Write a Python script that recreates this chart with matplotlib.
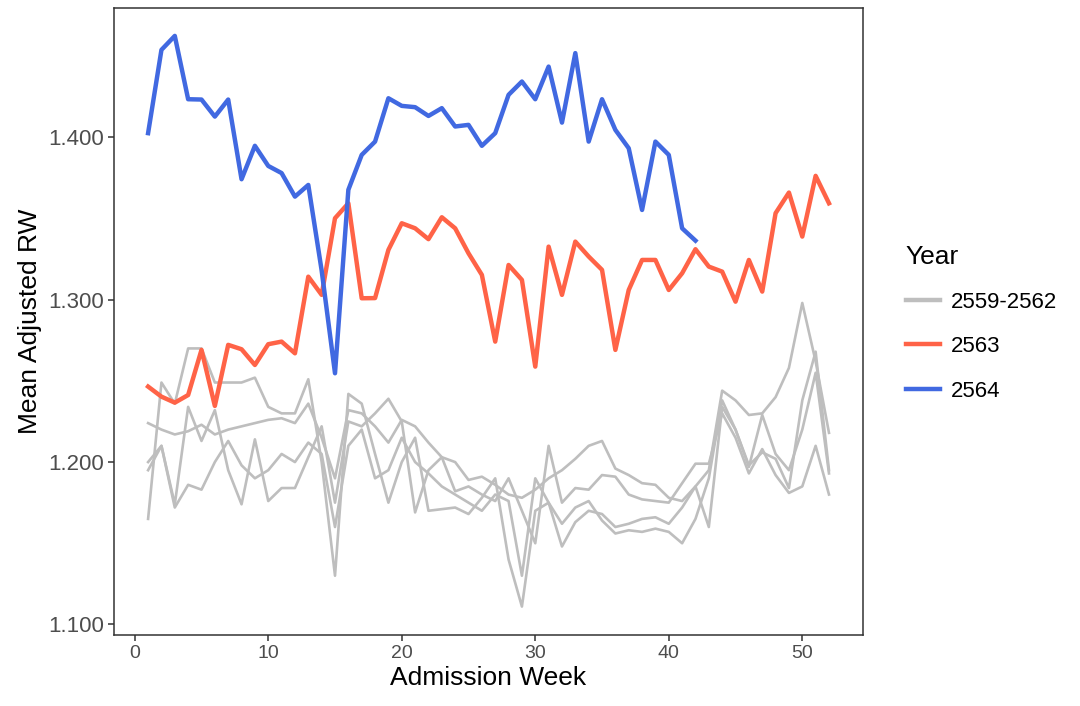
import numpy as np
import matplotlib.pyplot as plt
from matplotlib.lines import Line2D

plt.rcParams['font.family'] = ['Liberation Sans', 'DejaVu Sans']

weeks = np.arange(1, 53)

# mean adjusted RW per admission week, years 2559-2562 (background)
rw_2559 = [1.224, 1.220, 1.217, 1.219, 1.223, 1.217, 1.220, 1.222, 1.224, 1.226, 1.227, 1.224, 1.236,
           1.215, 1.190, 1.232, 1.230, 1.222, 1.212, 1.226, 1.222, 1.212, 1.203, 1.200, 1.189, 1.191, 1.186,
           1.180, 1.178, 1.183, 1.190, 1.195, 1.202, 1.210, 1.213, 1.196, 1.192, 1.187, 1.186, 1.178,
           1.176, 1.185, 1.195, 1.244, 1.238, 1.229, 1.230, 1.240, 1.258, 1.298, 1.262, 1.218]
rw_2560 = [1.165, 1.249, 1.236, 1.270, 1.270, 1.249, 1.249, 1.249, 1.252, 1.234, 1.230, 1.230, 1.251,
           1.200, 1.130, 1.242, 1.236, 1.205, 1.175, 1.200, 1.215, 1.170, 1.171, 1.172, 1.168, 1.178, 1.190,
           1.140, 1.111, 1.170, 1.175, 1.148, 1.163, 1.170, 1.168, 1.160, 1.162, 1.165, 1.166, 1.162,
           1.172, 1.185, 1.160, 1.234, 1.220, 1.198, 1.206, 1.202, 1.184, 1.238, 1.268, 1.195]
rw_2561 = [1.195, 1.210, 1.174, 1.234, 1.213, 1.232, 1.195, 1.174, 1.214, 1.176, 1.184, 1.184, 1.203,
           1.222, 1.175, 1.225, 1.222, 1.230, 1.239, 1.225, 1.169, 1.195, 1.203, 1.182, 1.185, 1.180, 1.176,
           1.190, 1.170, 1.150, 1.210, 1.175, 1.184, 1.183, 1.192, 1.191, 1.180, 1.177, 1.176, 1.175,
           1.187, 1.199, 1.199, 1.230, 1.215, 1.193, 1.208, 1.192, 1.181, 1.185, 1.210, 1.180]
rw_2562 = [1.200, 1.210, 1.172, 1.186, 1.183, 1.200, 1.213, 1.198, 1.190, 1.195, 1.205, 1.200, 1.212,
           1.205, 1.160, 1.210, 1.220, 1.190, 1.195, 1.215, 1.200, 1.193, 1.185, 1.180, 1.175, 1.170, 1.180,
           1.176, 1.130, 1.190, 1.175, 1.162, 1.172, 1.176, 1.164, 1.156, 1.158, 1.157, 1.159, 1.157,
           1.150, 1.165, 1.190, 1.238, 1.220, 1.197, 1.229, 1.205, 1.195, 1.220, 1.255, 1.193]

rw_2563 = [1.2465, 1.2403, 1.2366, 1.2413, 1.2691, 1.2346, 1.2722, 1.2695, 1.2598, 1.2726, 1.2742, 1.2670, 1.3142,
           1.3030, 1.3502, 1.3594, 1.3009, 1.3010, 1.3307, 1.3471, 1.3440, 1.3373, 1.3508, 1.3440, 1.3286, 1.3153,
           1.2742, 1.3214, 1.3122, 1.2588, 1.3327, 1.3030, 1.3358, 1.3266, 1.3184, 1.2691, 1.3060, 1.3245, 1.3245,
           1.3060, 1.3163, 1.3311, 1.3204, 1.3173, 1.2988, 1.3245, 1.3050, 1.3533, 1.3660, 1.3389, 1.3763, 1.3594]

rw_2564 = [1.4026, 1.4539, 1.4625, 1.4235, 1.4233, 1.4128, 1.4233, 1.3742, 1.3948, 1.3824, 1.3780, 1.3635, 1.3707,
           1.3180, 1.2547, 1.3677, 1.3892, 1.3974, 1.4241, 1.4194, 1.4186, 1.4132, 1.4180, 1.4067, 1.4077, 1.3948,
           1.4026, 1.4262, 1.4344, 1.4235, 1.4436, 1.4091, 1.4519, 1.3974, 1.4235, 1.4046, 1.3933, 1.3553, 1.3974,
           1.3892, 1.3440, 1.3364]

col_old = '#BEBEBE'
col_2563 = '#FF6347'
col_2564 = '#4169E1'

fig = plt.figure(figsize=(10.8, 7.06), dpi=100)
ax = fig.add_axes([0.1056, 0.1006, 0.6935, 0.8881])

for series in [rw_2559, rw_2560, rw_2561, rw_2562]:
    ax.plot(weeks, series, color=col_old, lw=1.9, solid_joinstyle='round')
ax.plot(weeks, rw_2563, color=col_2563, lw=3.2, solid_joinstyle='round')
ax.plot(weeks[:len(rw_2564)], rw_2564, color=col_2564, lw=3.2, solid_joinstyle='round')

ax.set_xlim(-1.55, 54.55)
ax.set_ylim(1.0935, 1.4797)
ax.set_xticks([0, 10, 20, 30, 40, 50])
ax.set_yticks([1.1, 1.2, 1.3, 1.4])
ax.set_yticklabels(['1.100', '1.200', '1.300', '1.400'])

for s in ax.spines.values():
    s.set_color('#333333')
    s.set_linewidth(1.1)
ax.tick_params(direction='out', length=4, width=1.1, color='#333333',
               labelcolor='#4D4D4D', pad=3)
ax.tick_params(axis='x', labelsize=14)
ax.tick_params(axis='y', labelsize=16)
ax.set_xlabel('Admission Week', fontsize=19, color='black', labelpad=3)
ax.set_ylabel('Mean Adjusted RW', fontsize=19, color='black', labelpad=5)

handles = [Line2D([], [], color=c, lw=3.2) for c in (col_old, col_2563, col_2564)]
leg = fig.legend(handles, ['2559-2562', '2563', '2564'], title='Year',
                 loc='upper left', bbox_to_anchor=(0.82, 0.682), frameon=False,
                 fontsize=16, title_fontsize=19, handlelength=1.55,
                 labelspacing=1.05, handletextpad=0.5)
leg._legend_box.align = 'left'

fig.savefig('out.png', dpi=100)
